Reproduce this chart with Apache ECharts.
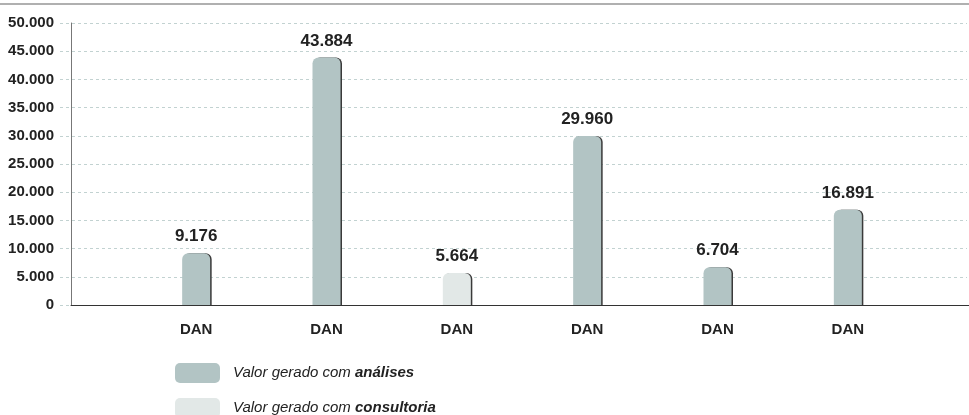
<!DOCTYPE html>
<html>
<head>
<meta charset="utf-8">
<script src="https://cdn.jsdelivr.net/npm/echarts@6/dist/echarts.min.js"></script>
<style>
  html, body { margin: 0; padding: 0; background: #fff; }
  #chart { width: 969px; height: 415px; }
</style>
</head>
<body>
<div id="chart"></div>
<script>
// Categories and values
const categories = ['DAN', 'DAN', 'DAN', 'DAN', 'DAN', 'DAN'];
const analises = [9176, 43884, null, 29960, 6704, 16891];
const consultoria = [null, null, 5664, null, null, null];
const seriesNames = ['Valor gerado com análises', 'Valor gerado com consultoria'];
const yMin = 0;
const yMax = 50000;
const yStep = 5000;

const FONT = '"Liberation Sans Narrow", "Arial Narrow", "Liberation Sans", Arial, sans-serif';
const COLOR_A = '#b2c4c4';
const COLOR_C = '#e2e8e7';

// Thousands separator with a dot (pt-BR style)
function fmt(v) {
  return String(v).replace(/\B(?=(\d{3})+(?!\d))/g, '.');
}

const chart = echarts.init(document.getElementById('chart'), null, { renderer: 'canvas' });

const gridTop = 23, gridBottom = 110;

const barLabel = {
  show: true,
  position: 'top',
  distance: 8,
  fontFamily: FONT,
  fontWeight: 'bold',
  fontSize: 17,
  color: '#222',
  formatter: p => fmt(p.value)
};

function barStyle(color) {
  return {
    color: color,
    borderRadius: [6, 6, 0, 0],
    shadowColor: '#3a3a3a',
    shadowOffsetX: 1.5,
    shadowOffsetY: 0,
    shadowBlur: 0
  };
}

const option = {
  backgroundColor: '#ffffff',
  animation: false,
  graphic: [{
    type: 'rect',
    left: 0,
    top: 3,
    shape: { width: 969, height: 2 },
    style: { fill: '#b0b0b0' },
    silent: true
  }],
  grid: [
    { left: 60, right: 2, top: gridTop, bottom: gridBottom },   // ticks + dashed guides
    { left: 71, right: 0, top: gridTop, bottom: gridBottom },   // axis lines
    { left: 131, right: 56, top: gridTop, bottom: gridBottom }  // bars
  ],
  xAxis: [
    { gridIndex: 0, type: 'category', data: categories, show: false },
    {
      gridIndex: 1, type: 'category', data: categories,
      axisLine: { show: true, lineStyle: { color: '#333', width: 1 } },
      axisTick: { show: false }, axisLabel: { show: false }
    },
    {
      gridIndex: 2, type: 'category', data: categories,
      axisLine: { show: false }, axisTick: { show: false },
      axisLabel: {
        margin: 17,
        fontFamily: FONT, fontWeight: 'bold', fontSize: 15, color: '#222'
      }
    }
  ],
  yAxis: [
    {
      gridIndex: 0, type: 'value', min: yMin, max: yMax, interval: yStep,
      axisLine: { show: false }, axisTick: { show: false },
      axisLabel: {
        margin: 6,
        fontFamily: FONT, fontWeight: 'bold', fontSize: 15, color: '#222',
        formatter: v => fmt(v)
      },
      splitLine: { show: true, lineStyle: { color: '#c2d2d1', type: [3, 3], width: 1 } }
    },
    {
      gridIndex: 1, type: 'value', min: yMin, max: yMax, interval: yStep,
      axisLine: { show: true, lineStyle: { color: '#777', width: 1 } },
      axisTick: { show: false }, axisLabel: { show: false }, splitLine: { show: false }
    },
    {
      gridIndex: 2, type: 'value', min: yMin, max: yMax, interval: yStep,
      show: false, splitLine: { show: false }
    }
  ],
  legend: {
    orient: 'vertical',
    left: 175,
    top: 363,
    height: 90,
    padding: 0,
    itemWidth: 45,
    itemHeight: 20,
    itemGap: 15,
    icon: 'roundRect',
    data: seriesNames,
    formatter: name => {
      const idx = name.lastIndexOf(' ');
      return '{n|' + name.slice(0, idx + 1) + '}{b|' + name.slice(idx + 1) + '}';
    },
    textStyle: {
      padding: [0, 0, 0, 8],
      rich: {
        n: { fontFamily: FONT, fontStyle: 'italic', fontSize: 15, color: '#222' },
        b: { fontFamily: FONT, fontStyle: 'italic', fontWeight: 'bold', fontSize: 15, color: '#222' }
      }
    }
  },
  series: [
    {
      name: seriesNames[0], type: 'bar',
      xAxisIndex: 2, yAxisIndex: 2,
      data: analises, barWidth: 28, barGap: '-100%',
      itemStyle: barStyle(COLOR_A),
      label: barLabel
    },
    {
      name: seriesNames[1], type: 'bar',
      xAxisIndex: 2, yAxisIndex: 2,
      data: consultoria, barWidth: 28, barGap: '-100%',
      itemStyle: barStyle(COLOR_C),
      label: barLabel
    }
  ]
};

chart.setOption(option);
</script>
</body>
</html>
